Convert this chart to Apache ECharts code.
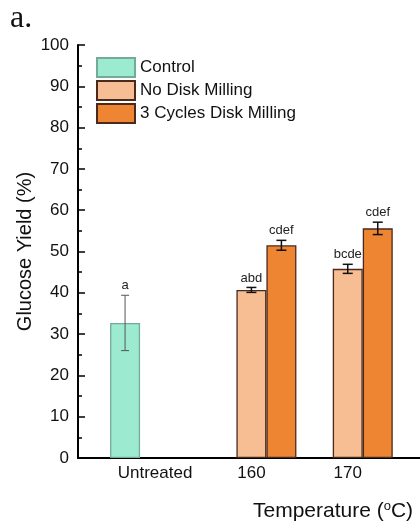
<!DOCTYPE html>
<html>
<head>
<meta charset="utf-8">
<script src="https://cdn.jsdelivr.net/npm/echarts@6/dist/echarts.min.js"></script>
<style>html,body{margin:0;padding:0;background:#fff}#c{width:420px;height:529px}</style>
</head>
<body>
<div id="c"></div>
<script>
// ---- data ----
const categories = ['Untreated', '160', '170'];
const seriesNames = ['Control', 'No Disk Milling', '3 Cycles Disk Milling'];
const controlVals = [32.7, null, null];
const controlErr = [6.7, null, null];
const controlLbl = ['a', null, null];
const noMillVals = [null, 40.7, 45.8];
const noMillErr = [null, 0.6, 1.1];
const noMillLbl = [null, 'abd', 'bcde'];
const millVals = [null, 51.5, 55.6];
const millErr = [null, 1.2, 1.5];
const millLbl = [null, 'cdef', 'cdef'];
const yTicks = [0, 10, 20, 30, 40, 50, 60, 70, 80, 90, 100];

// ---- styling ----
const FONT = 'Liberation Sans, Arial, sans-serif';
const BAR_W = 30;
const fills = ['#9cebd0', '#f6be92', '#ee8532'];
const borders = ['#72ab98', '#4a2a1c', '#4a2a1c'];
const errColors = ['#555', '#111', '#111'];
const errWidths = [1, 1.5, 1.5];
const capHalf = [4, 5, 5];

const allVals = [controlVals, noMillVals, millVals];
const allErr = [controlErr, noMillErr, millErr];
const allLbl = [controlLbl, noMillLbl, millLbl];

const barSeries = seriesNames.map((name, s) => ({
  name: name,
  type: 'bar',
  barWidth: BAR_W,
  barGap: '0%',
  data: allVals[s].map((v, i) => v == null ? null : [i + 1, v]).filter(d => d),
  itemStyle: { color: fills[s], borderColor: borders[s], borderWidth: 1.3 },
  z: 2
}));

const errItems = [];
allVals.forEach((vals, s) => vals.forEach((v, i) => {
  if (v != null) errItems.push({ x: i + 1, v: v, e: allErr[s][i], s: s, lbl: allLbl[s][i] });
}));

const errSeries = {
  type: 'custom',
  z: 5,
  silent: true,
  encode: { x: 0, y: [1, 2] },
  data: errItems.map(d => [d.x, d.v - d.e, d.v + d.e, d.s]),
  renderItem: function (params, api) {
    const d = errItems[params.dataIndex];
    const s = api.value(3);
    const top = api.coord([api.value(0), api.value(2)]);
    const bot = api.coord([api.value(0), api.value(1)]);
    const x = top[0] + (s - 1) * BAR_W;
    const st = { stroke: errColors[s], lineWidth: errWidths[s] };
    const h = capHalf[s];
    return {
      type: 'group',
      children: [
        { type: 'line', shape: { x1: x, y1: top[1], x2: x, y2: bot[1] }, style: st },
        { type: 'line', shape: { x1: x - h, y1: top[1], x2: x + h, y2: top[1] }, style: st },
        { type: 'line', shape: { x1: x - h, y1: bot[1], x2: x + h, y2: bot[1] }, style: st },
        { type: 'text', x: x, y: top[1] - 3,
          style: { text: d.lbl || '', align: 'center', verticalAlign: 'bottom',
                   font: '13px ' + FONT, fill: '#222' } }
      ]
    };
  }
};

const chart = echarts.init(document.getElementById('c'), null, { renderer: 'canvas' });
chart.setOption({
  animation: false,
  backgroundColor: '#fff',
  title: [
    { text: 'a.', left: 10, top: 3, padding: 0,
      textStyle: { fontFamily: 'Liberation Serif, Times New Roman, serif', fontSize: 32, fontWeight: 'normal', color: '#111' } },
    { text: 'Temperature ({sup|o}C)', left: 253, top: 500, padding: 0,
      textStyle: { fontFamily: FONT, fontSize: 21, fontWeight: 'normal', color: '#111',
        rich: { sup: { fontFamily: FONT, fontSize: 13, color: '#111', verticalAlign: 'top', padding: [0, 0, 9, 0] } } } }
  ],
  legend: {
    orient: 'vertical', left: 96, top: 57, padding: 0,
    itemWidth: 38, itemHeight: 19, itemGap: 2,
    icon: 'rect',
    data: seriesNames,
    textStyle: { fontFamily: FONT, fontSize: 17, color: '#111' },
    selectedMode: false
  },
  grid: { left: 78, right: 0, top: 45, bottom: 71, containLabel: false },
  xAxis: {
    type: 'value', min: 0.2, max: 3.75,
    axisLine: { show: true, lineStyle: { color: '#000', width: 2 } },
    axisTick: { show: false },
    splitLine: { show: false },
    axisLabel: {
      customValues: categories.map((c, i) => i + 1),
      formatter: v => categories[Math.round(v) - 1] || '',
      fontFamily: FONT, fontSize: 17, color: '#111', margin: 7
    }
  },
  yAxis: {
    type: 'value', min: yTicks[0], max: yTicks[yTicks.length - 1], interval: 10,
    name: 'Glucose Yield (%)', nameLocation: 'middle', nameGap: 43, nameMoveOverlap: false,
    nameTextStyle: { fontFamily: FONT, fontSize: 20, color: '#111' },
    axisLine: { show: true, lineStyle: { color: '#000', width: 2 } },
    axisTick: { show: true, inside: true, length: 7, lineStyle: { color: '#000', width: 1.5 } },
    minorTick: { show: true, splitNumber: 2, length: 4, lineStyle: { color: '#000', width: 1.5 } },
    splitLine: { show: false },
    axisLabel: { fontFamily: FONT, fontSize: 17, color: '#111', margin: 9 }
  },
  series: barSeries.concat([errSeries])
});
</script>
</body>
</html>
